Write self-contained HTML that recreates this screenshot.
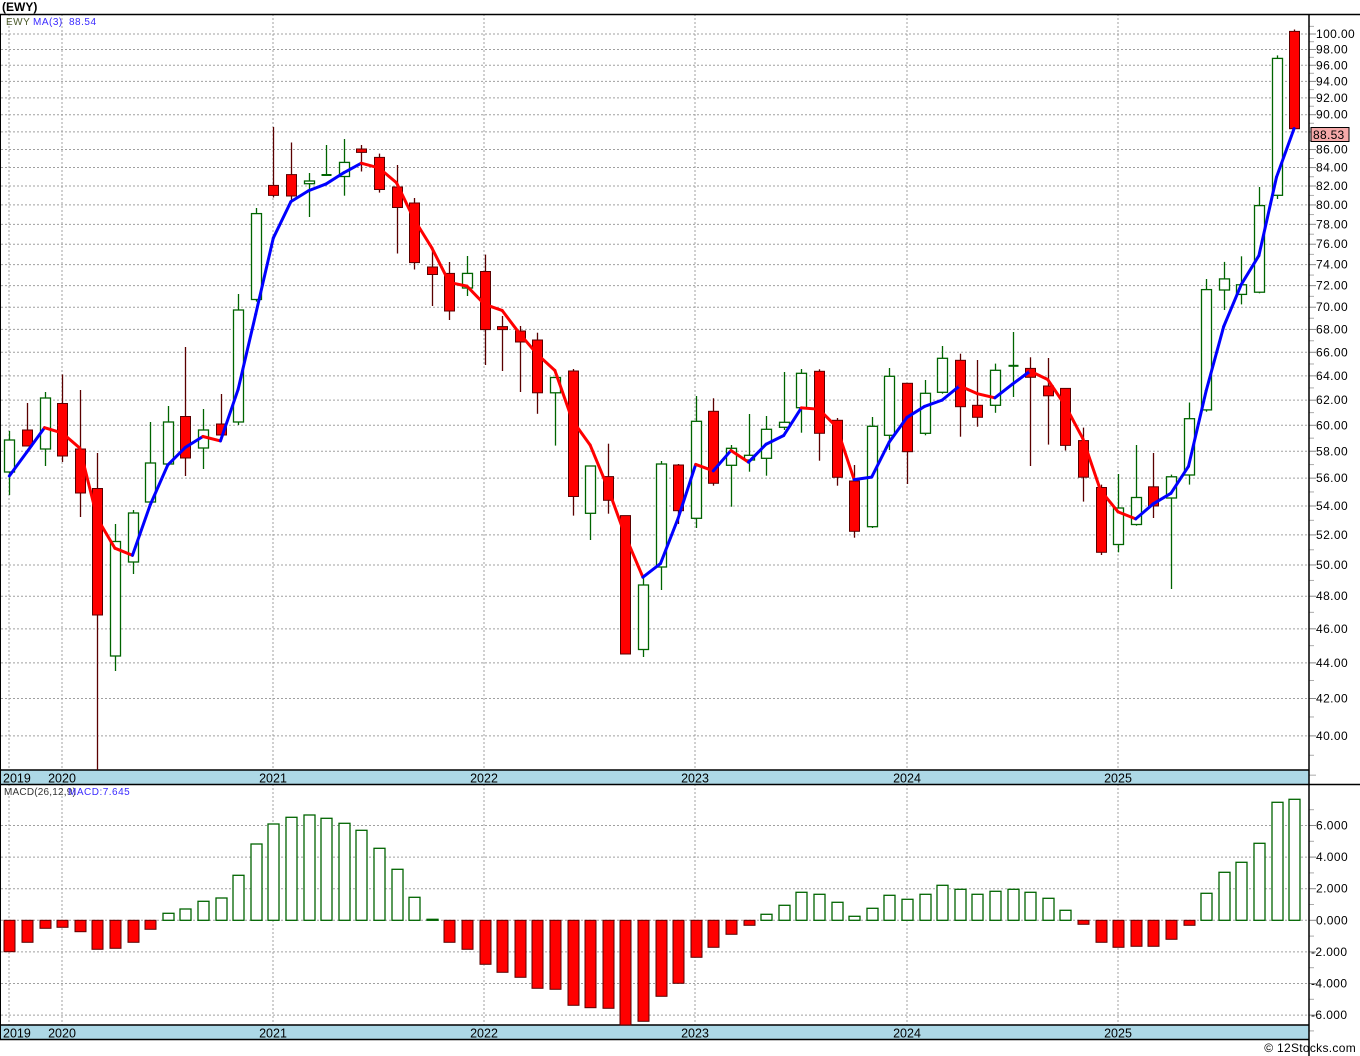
<!DOCTYPE html>
<html><head><meta charset="utf-8">
<style>
html,body{margin:0;padding:0;background:#fff;}
svg{display:block;font-family:"Liberation Sans",sans-serif;}
</style></head>
<body>
<svg id="c" width="1360" height="1056" xmlns="http://www.w3.org/2000/svg">
<rect width="1360" height="1056" fill="#fff"/>
<text x="2" y="11" font-size="12" font-weight="bold" fill="#000">(EWY)</text>
<g id="g"></g>
</svg>
<script>
const NS="http://www.w3.org/2000/svg";
const g=document.getElementById('g');
function el(t,a,txt){const e=document.createElementNS(NS,t);for(const k in a)e.setAttribute(k,a[k]);if(txt!==undefined)e.textContent=txt;g.appendChild(e);return e;}
const AX=1309;
const py=p=>34+766*Math.log(100/p);
const yp=y=>100*Math.exp(-(y-34)/766);
for(let v=40;v<=100;v+=2){const y=py(v);el('line',{x1:1,x2:AX,y1:y,y2:y,stroke:'#a0a0a0','stroke-dasharray':'2,2'});
 el('line',{x1:AX,x2:AX+7,y1:y,y2:y,stroke:'#888'});
 el('text',{x:1316,y:y+4,'font-size':12,'letter-spacing':0.4,fill:'#000'},v.toFixed(2));}
for(let v=39;v<=101;v+=2){const y=py(v);el('line',{x1:AX,x2:AX+5,y1:y,y2:y,stroke:'#aaa'});}
{const y=py(38);el('line',{x1:AX,x2:AX+7,y1:y,y2:y,stroke:'#aaa'});}
const my=v=>920.3-v*15.8;
for(let v=-6;v<=6;v+=2){const y=my(v);el('line',{x1:1,x2:AX,y1:y,y2:y,stroke:'#a0a0a0','stroke-dasharray':'2,2'});
 el('line',{x1:AX,x2:AX+7,y1:y,y2:y,stroke:'#888'});
 el('text',{x:v<0?1311:1316,y:y+4,'font-size':12,'letter-spacing':0.4,fill:'#000'},v.toFixed(3));}
for(let v=-7;v<=7;v+=2){const y=my(v);if(y>786&&y<1040)el('line',{x1:AX,x2:AX+5,y1:y,y2:y,stroke:'#aaa'});}
const yrs=[[9,'2019'],[62,'2020'],[273,'2021'],[484,'2022'],[695,'2023'],[907,'2024'],[1118,'2025']];
for(const [x] of yrs){el('line',{x1:x,x2:x,y1:14,y2:770,stroke:'#a0a0a0','stroke-dasharray':'2,2'});el('line',{x1:x,x2:x,y1:784,y2:1025,stroke:'#a0a0a0','stroke-dasharray':'2,2'});}
for(const sy of [770,1025]){el('rect',{x:1,y:sy,width:AX-1,height:14,fill:'#add8e6'});
 el('line',{x1:0,x2:AX,y1:sy,y2:sy,stroke:'#000','stroke-width':1.5});
 for(const [x,t] of yrs){el('text',{x:x===9?3:x,y:sy+12.5,'font-size':12.5,fill:'#000','text-anchor':x===9?'start':'middle'},t);}}
el('line',{x1:0,x2:1360,y1:784.5,y2:784.5,stroke:'#000','stroke-width':1.5});
el('line',{x1:0,x2:AX,y1:1039.5,y2:1039.5,stroke:'#000','stroke-width':1.5});
el('line',{x1:0,x2:1360,y1:14.5,y2:14.5,stroke:'#000','stroke-width':1.5});
el('line',{x1:0.5,x2:0.5,y1:14,y2:1040,stroke:'#000'});
el('line',{x1:AX,x2:AX,y1:14,y2:1056,stroke:'#000','stroke-width':1.5});
const C=[
['g',440,472,431,495],['r',430,446,403,446],['g',398,449,392,466],['r',403.5,456,374.5,462],['r',449,493,390,517],
['r',488.5,615,453,770],['g',541.5,656,524,671],['g',513,562,510,574],['g',463,502,422,502],['g',422,464,406,464],
['r',416.5,458,347,476],['g',430,448,409,469],['r',424,435,394,435],['g',310,422,294,425],['g',213.6,299.5,208,301.6],
['r',185.4,195.4,127,197.5],['r',174.6,196,142.5,200],['g',181,183.7,173,217],['g',175,175,145,175],['g',162.4,176.5,139,195.7],
['r',149,152.4,145,171.5],['r',157.4,189.5,153.6,192.6],['r',187,207.5,165,253.5],['r',203,262.6,198,269.5],['r',267,274.5,247,306],
['r',273.4,311,262,320],['g',273.4,288,256,296],['r',271.5,329.6,254.6,365],['r',326.6,329.6,316,371],['r',331,342,326,392],
['r',340,392.8,332.7,413.8],['g',377.5,392.8,377.5,445.6],['r',371,496.5,369,515.6],['g',466,513.3,465.5,540],['r',476.6,500.3,443.7,513.7],
['r',515.6,654,515.6,654],['g',585,649.5,578,657],['g',464,567,461,590],['r',465,510.7,464,524],['g',421.3,518.3,396,528],
['r',411.3,483.3,398.3,485.7],['g',448.3,465.3,445,506.7],['g',455.3,460,414,471.7],['g',429.3,458.3,416,475.7],['g',422.3,427.3,372,430],
['g',373.3,407.7,369,432.7],['r',371.3,433.3,369.3,460.7],['r',420.3,477.3,418,485.7],['r',481,531.3,465,537.7],['g',426.3,526.7,417,528],
['g',376.3,435.3,368,450],['r',383.3,451.7,383.3,484],['g',393.3,433.3,380,435.3],['g',358.3,392.3,346,393.7],['r',360.3,406.7,353.7,436.7],
['r',405.3,417.3,360,426.7],['g',370.3,405.3,363.6,412.8],['g',365.8,365.8,332,397],['r',368.4,377.3,357.3,466],['r',386,395.8,358,444.6],
['r',388.4,445.4,388.4,450.5],['r',440.6,477.2,427.6,501.6],['r',487.5,552.3,484.6,555],['g',508,544.5,474,552.3],['g',497.5,524.5,445,525.7],
['r',486.8,506,453,518],['g',476.8,498,474.6,589],['g',418.7,475,402.5,484.6],['g',289.6,409.9,279,411.7],['g',278.9,290,261.9,310],
['g',284.8,294.4,256.3,304.4],['g',205.6,292.2,187,293.3],['g',58.4,195.3,55.4,199],['r',31.4,128.7,29.5,128.7]];
const X=i=>9.3+17.6*i;
C.forEach((c,i)=>{const x=Math.round(X(i))+0.5;const [t,top,bot,h,l]=c;
 const wc=t==='g'?'#006400':'#5a0000';
 el('line',{x1:x,x2:x,y1:h,y2:l,stroke:wc,'stroke-width':1.3});
 const hgt=Math.max(bot-top,1.5);
 if(t==='g'){ if(bot-top<2){el('line',{x1:x-5,x2:x+5,y1:top,y2:top,stroke:'#006400','stroke-width':2});}
   else el('rect',{x:x-5,y:top,width:10,height:hgt,fill:'#fff',stroke:'#006400','stroke-width':1.3});}
 else el('rect',{x:x-5,y:top,width:10,height:hgt,fill:'#ff0000',stroke:'#5a0000','stroke-width':1});
});
const cl=C.map(c=>yp(c[0]==='g'?c[1]:c[2]));
const ma=[];ma[0]=476;ma[1]=452;
for(let i=2;i<C.length;i++){ma[i]=py((cl[i]+cl[i-1]+cl[i-2])/3);}
for(let i=1;i<C.length;i++){const col=ma[i]>ma[i-1]?'#ff0000':'#0000ff';
 el('line',{x1:X(i-1),y1:ma[i-1],x2:X(i),y2:ma[i],stroke:col,'stroke-width':3,'stroke-linecap':'round'});}
const M=[951.7,942.3,928.3,927.3,931.7,949.3,948.3,942.3,929.3,913.3,909,901.3,898,875.3,844,824,817.3,815,818.3,823.3,830.3,848.3,869.3,897.3,919.3,
942.3,949.3,964.3,972.3,977.3,988.3,989.3,1005.3,1007.7,1008.3,1025,1021.3,996.3,983.3,
957.3,947.3,934.3,925.3,914.3,905.3,892.3,894.3,902.3,916.3,908.3,895.3,899.3,894.3,885.3,889.3,894.3,891.3,889.3,892.3,898.3,910.3,
924.3,942.3,947.3,946.3,946.3,939.3,925.3,893.3,872.3,862.3,843.3,802.3,799.3];
const Z=920.3;
M.forEach((v,i)=>{const x=Math.round(X(i))+0.5;
 if(v<Z){el('rect',{x:x-5.5,y:v,width:11,height:Z-v,fill:'#fff',stroke:'#006400','stroke-width':1.3});}
 else if(v>Z+0.5){el('rect',{x:x-5.5,y:Z,width:11,height:Math.min(v,1025)-Z,fill:'#ff0000',stroke:'#5a0000','stroke-width':1});}
 else el('line',{x1:x-5.5,x2:x+5.5,y1:Z,y2:Z,stroke:'#006400','stroke-width':2});
});
el('rect',{x:1311,y:127.5,width:38,height:14,fill:'#f5a9a9',stroke:'#000','stroke-width':1});
el('text',{x:1313,y:139,'font-size':12,'letter-spacing':0.3,fill:'#000'},'88.53');
el('text',{x:6,y:25,'font-size':10,'letter-spacing':0.5,fill:'#4a5a2a'},'EWY');
el('text',{x:33,y:25,'font-size':10,'letter-spacing':0.5,fill:'#3a2aff'},'MA(3)');
el('text',{x:69,y:25,'font-size':10,'letter-spacing':0.5,fill:'#3a2aff'},'88.54');
el('text',{x:4,y:795,'font-size':10,'letter-spacing':0.2,fill:'#333'},'MACD(26,12,9)');
el('text',{x:68,y:795,'font-size':10,'letter-spacing':0.5,fill:'#3a2aff'},'MACD:7.645');
el('text',{x:1356,y:1052,'font-size':12,'letter-spacing':0.3,fill:'#000','text-anchor':'end'},'© 12Stocks.com');
</script>
</body></html>
